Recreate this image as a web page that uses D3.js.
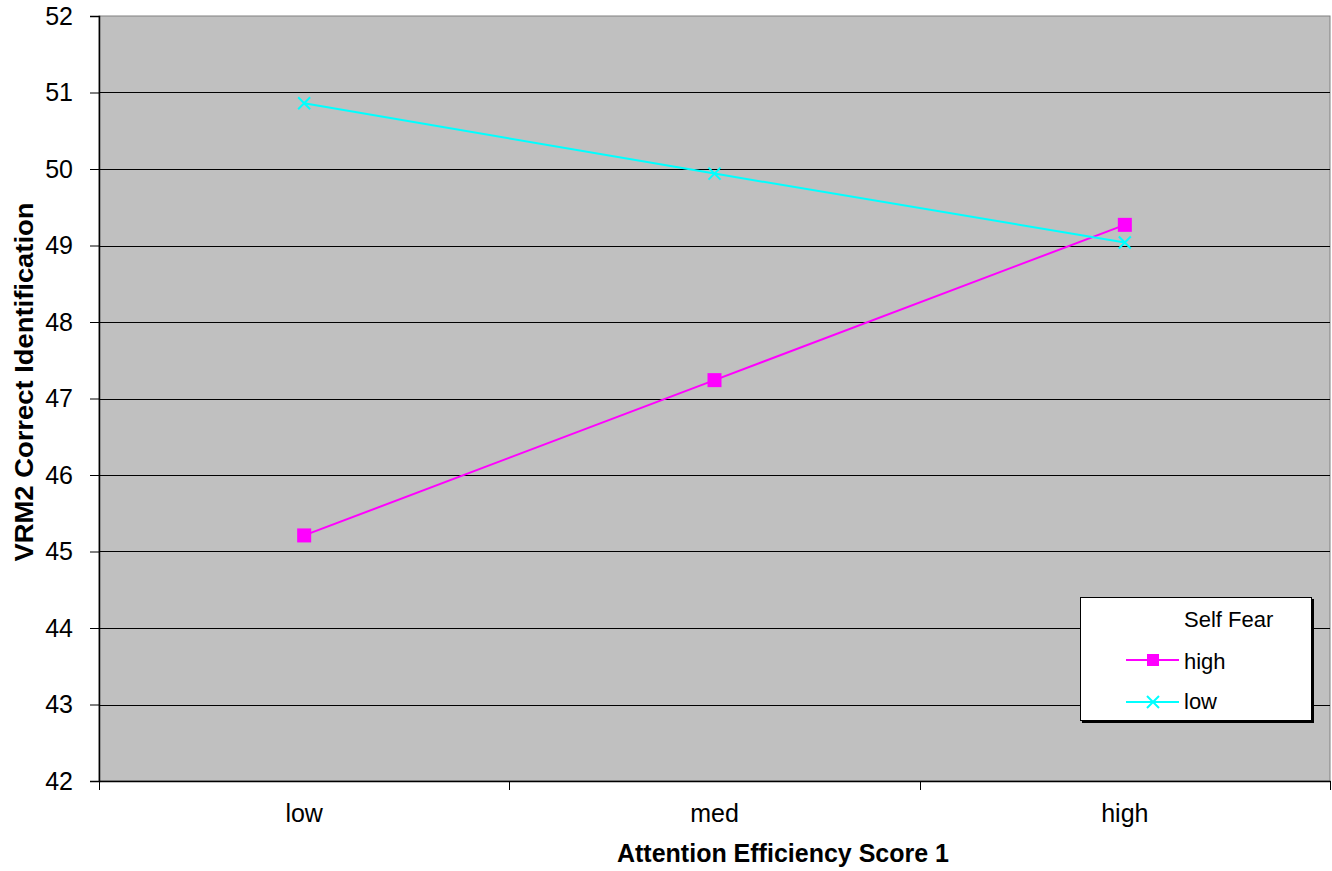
<!DOCTYPE html>
<html><head><meta charset="utf-8">
<script src="https://cdn.jsdelivr.net/npm/d3@7"></script>
<style>body{margin:0;background:#fff}svg{display:block}text{font-family:Arial,"Liberation Sans",sans-serif}</style>
</head><body>
<script>
const categories = ["low", "med", "high"];
const seriesNames = ["high", "low"];
const highValues = [45.21, 47.24, 49.27];
const lowValues = [50.86, 49.94, 49.04];
const yTicks = [42, 43, 44, 45, 46, 47, 48, 49, 50, 51, 52];

const W = 1332, H = 871;
const m = {left: 99, right: 1330, top: 16, bottom: 781};
const svg = d3.select("body").append("svg").attr("width", W).attr("height", H);

const x = d3.scaleBand().domain(categories).range([m.left, m.right]);
const y = d3.scaleLinear().domain([42, 52]).range([m.bottom, m.top]);

svg.append("rect").attr("x", m.left).attr("y", m.top).attr("width", m.right - m.left).attr("height", m.bottom - m.top)
  .attr("fill", "#c0c0c0").attr("stroke", "#808080").attr("stroke-width", 1);

// gridlines
svg.append("g").selectAll("line").data(yTicks.slice(1, -1)).join("line")
  .attr("x1", m.left).attr("x2", m.right).attr("y1", d => Math.round(y(d)) + 0.5).attr("y2", d => Math.round(y(d)) + 0.5)
  .attr("stroke", "#000").attr("stroke-width", 1);

const FONT = "Arial, 'Liberation Sans', sans-serif";
// y axis
const ya = svg.append("g").attr("transform", `translate(${m.left},0)`)
  .call(d3.axisLeft(y).tickValues(yTicks).tickSize(9).tickPadding(17).tickFormat(d3.format("d")));
ya.select(".domain").attr("stroke", "#000").attr("stroke-width", 1.5);
ya.selectAll(".tick line").attr("stroke", "#000");
ya.selectAll("text").attr("font-size", 25).attr("fill", "#000").attr("font-family", FONT);

// x axis
const xa = svg.append("g").attr("transform", `translate(0,${m.bottom})`)
  .call(d3.axisBottom(x).tickSize(0).tickPadding(23));
xa.select(".domain").attr("stroke", "#000").attr("stroke-width", 1.5);
xa.selectAll("text").attr("font-size", 25).attr("fill", "#000").attr("font-family", FONT);
// category boundary ticks
const bounds = [0, 1, 2, 3].map(i => m.left + i * x.step());
svg.append("g").selectAll("line").data(bounds).join("line")
  .attr("x1", d => Math.round(d) + 0.5).attr("x2", d => Math.round(d) + 0.5)
  .attr("y1", m.bottom).attr("y2", m.bottom + 9).attr("stroke", "#000");

// titles
svg.append("text").attr("x", 783).attr("y", 862).attr("text-anchor", "middle")
  .attr("font-size", 25).attr("font-weight", "bold").text("Attention Efficiency Score 1");
svg.append("text").attr("transform", `translate(33,382) rotate(-90)`).attr("text-anchor", "middle")
  .attr("font-size", 26).attr("font-weight", "bold")
  .attr("textLength", 359).attr("lengthAdjust", "spacingAndGlyphs")
  .text("VRM2 Correct Identification");

const cx = c => x(c) + x.bandwidth() / 2;
const line = d3.line().x(d => cx(d.c)).y(d => y(d.v));
const highData = categories.map((c, i) => ({c, v: highValues[i]}));
const lowData = categories.map((c, i) => ({c, v: lowValues[i]}));

const magenta = "#ff00ff", cyan = "#00ffff";
svg.append("path").datum(highData).attr("d", line).attr("fill", "none").attr("stroke", magenta).attr("stroke-width", 2);
svg.append("path").datum(lowData).attr("d", line).attr("fill", "none").attr("stroke", cyan).attr("stroke-width", 2);

function square(g, px, py, s = 7) {
  g.append("rect").attr("x", px - s).attr("y", py - s).attr("width", 2 * s).attr("height", 2 * s).attr("fill", magenta);
}
function cross(g, px, py) {
  const s = 6;
  g.append("path").attr("d", `M${px - s},${py - s}L${px + s},${py + s}M${px - s},${py + s}L${px + s},${py - s}`)
    .attr("stroke", cyan).attr("stroke-width", 2).attr("fill", "none");
}
const mg = svg.append("g");
lowData.forEach(d => cross(mg, cx(d.c), y(d.v)));
highData.forEach(d => square(mg, cx(d.c), y(d.v)));

// legend
const lg = svg.append("g");
lg.append("rect").attr("x", 1082).attr("y", 599).attr("width", 232).attr("height", 124).attr("fill", "#000");
lg.append("rect").attr("x", 1080.5).attr("y", 597.5).attr("width", 231).attr("height", 123).attr("fill", "#fff").attr("stroke", "#000");
lg.append("text").attr("x", 1184).attr("y", 627).attr("font-size", 22).text("Self Fear");
const items = [{name: seriesNames[0], color: magenta, y: 660, ty: 669, mk: (g, a, b) => square(g, a, b, 6)},
               {name: seriesNames[1], color: cyan, y: 702, ty: 709, mk: cross}];
items.forEach(it => {
  lg.append("line").attr("x1", 1126).attr("x2", 1179).attr("y1", it.y).attr("y2", it.y).attr("stroke", it.color).attr("stroke-width", 2);
  it.mk(lg, 1153, it.y);
  lg.append("text").attr("x", 1184).attr("y", it.ty).attr("font-size", 22).text(it.name);
});
</script>
</body></html>
